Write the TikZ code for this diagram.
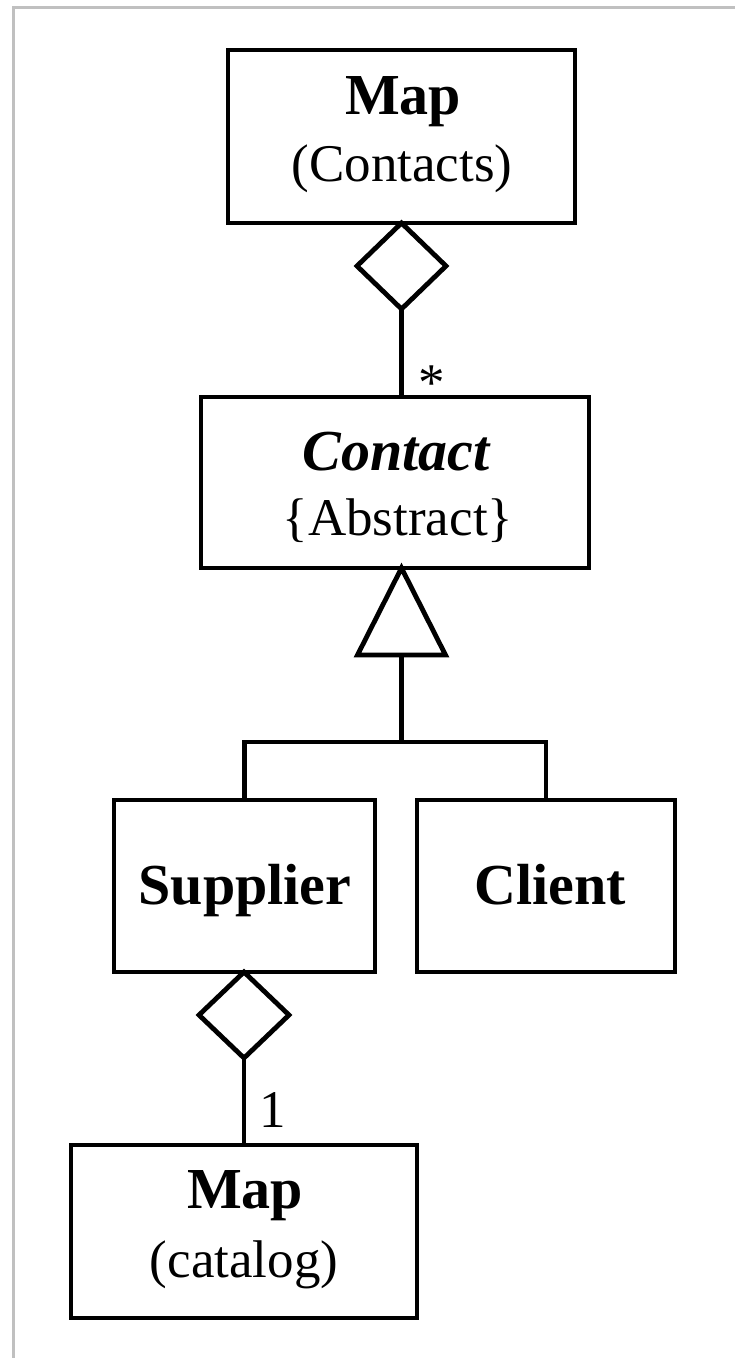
\documentclass[tikz,border=0pt]{standalone}
\usepackage{fontspec}
\setmainfont{Liberation Serif}
\usetikzlibrary{shapes.geometric,calc}
\definecolor{frameGray}{RGB}{192,192,192}
\begin{document}
\begin{tikzpicture}[x=1pt,y=-1pt,
  box/.style={draw, line width=4.8pt, rectangle, inner sep=0pt, outer sep=0pt},
  title/.style={anchor=base, inner sep=0pt, font=\fontsize{58}{60}\selectfont\bfseries},
  sub/.style={anchor=base, inner sep=0pt, font=\fontsize{53}{60}\selectfont},
  conn/.style={line width=4.5pt},
  agg/.style={diamond, draw, line width=4.8pt, inner sep=0pt, outer sep=0pt,
    minimum width=89pt, minimum height=86pt, anchor=north, fill=white}
]
\useasboundingbox (0,0) rectangle (734,1358);
\fill[white] (0,0) rectangle (734,1358);
\draw[frameGray, line width=3pt] (13,1360) -- (13,7) -- (736,7);

% class boxes
\node[box, minimum width=347pt, minimum height=173pt] (map1) at (401.5,136.5) {};
\node[box, minimum width=388pt, minimum height=171pt] (contact) at (395,482.5) {};
\node[box, minimum width=261pt, minimum height=172pt] (supplier) at (244.5,886) {};
\node[box, minimum width=258pt, minimum height=172pt] (client) at (546,886) {};
\node[box, minimum width=346pt, minimum height=173pt] (map2) at (244,1231.5) {};

% texts
\node[title] (t1) at (403,114) {Map};
\node[sub] (s1) at (402,181) {(Contacts)};
\node[title, font=\fontsize{58}{60}\selectfont\bfseries\itshape] (t2) at (396,470) {Contact};
\node[sub] (s2) at (398,535) {\{Abstract\}};
\node[title] (t3) at (245,904) {Supplier};
\node[title] (t4) at (550,904) {Client};
\node[title] (t5) at (245,1208) {Map};
\node[sub] (s5) at (244,1277) {(catalog)};

% aggregation Map(Contacts) <>-- Contact
\node[agg] (d1) at (map1.south) {};
\draw[conn] (d1.south) -- (d1.south |- contact.north);
\node[sub, anchor=center] (m1) at (432,383) {*};

% generalization
\coordinate (apex) at (contact.south -| map1.south);
\coordinate (tb) at ($(apex)+(0,87)$);
\draw[conn, line width=4.8pt, fill=white] (apex) -- ($(tb)+(44,0)$) -- ($(tb)+(-44,0)$) -- cycle;
\coordinate (bus) at (401.5,742);
\draw[conn] (tb) -- (bus);
\draw[conn] (supplier.north) |- (bus) -| (client.north);

% aggregation Supplier <>-- Map(catalog)
\node[agg, minimum width=90pt] (d2) at (supplier.south -| map2.north) {};
\draw[conn] (d2.south) -- (map2.north);
\node[sub] (m2) at (273,1127) {1};
\end{tikzpicture}
\end{document}
